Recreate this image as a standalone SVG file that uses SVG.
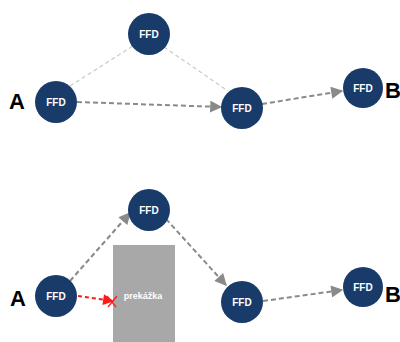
<svg xmlns="http://www.w3.org/2000/svg" width="400" height="342" viewBox="0 0 400 342">
  <defs>
    <marker id="arrow" viewBox="0 0 10 10" refX="9" refY="5" markerWidth="14" markerHeight="12" markerUnits="userSpaceOnUse" orient="auto">
      <path d="M0,0 L10,5 L0,10 z" fill="#8a8a8a"/>
    </marker>
    <marker id="arrowRed" viewBox="0 0 10 10" refX="9" refY="5" markerWidth="12" markerHeight="11" markerUnits="userSpaceOnUse" orient="auto">
      <path d="M0,0 L10,5 L0,10 z" fill="#ff1a1a"/>
    </marker>
  </defs>
  <style>
    .node circle { fill: #183b6a; }
    .node text { fill: #ffffff; font-family: "Liberation Sans", Arial, sans-serif; font-weight: bold; font-size: 10px; text-anchor: middle; }
    .end { fill: #000000; font-family: "Liberation Sans", Arial, sans-serif; font-weight: bold; font-size: 22px; }
    .faint { stroke: #c9c9c9; stroke-width: 1.2; stroke-dasharray: 4 3; fill: none; }
    .flowArrow { stroke: #8a8a8a; stroke-width: 2; stroke-dasharray: 5 3; fill: none; marker-end: url(#arrow); }
    .blocked { stroke: #ff1a1a; stroke-width: 2; stroke-dasharray: 4 3; fill: none; marker-end: url(#arrowRed); }
  </style>

  <rect width="400" height="342" fill="#ffffff"/>

  <!-- obstacle -->
  <g id="obstacle">
    <rect x="113" y="245" width="62" height="97" fill="#a8a8a8"/>
    <text x="143" y="299" fill="#ffffff" font-family="Liberation Sans, Arial, sans-serif" font-weight="bold" font-size="9" text-anchor="middle">prekážka</text>
  </g>

  <!-- connectors -->
  <g id="connectors">
    <!-- direct route -->
    <line class="faint" x1="70" y1="86" x2="133" y2="46"/>
    <line class="faint" x1="164" y1="47" x2="228" y2="91"/>
    <line class="flowArrow" x1="77" y1="102" x2="221" y2="107"/>
    <line class="flowArrow" x1="262" y1="104" x2="342" y2="91"/>
    <!-- detour route -->
    <line class="flowArrow" x1="70" y1="281" x2="130" y2="213"/>
    <line class="flowArrow" x1="166" y1="219" x2="226" y2="285"/>
    <line class="flowArrow" x1="263" y1="301" x2="342" y2="290"/>
    <line class="blocked" x1="78" y1="296" x2="113" y2="301"/>
    <path d="M107,296 L116,307 M108,307 L117,296" stroke="#ff1a1a" stroke-width="1.2" fill="none"/>
  </g>

  <!-- endpoint labels -->
  <text class="end" x="9" y="109">A</text>
  <text class="end" x="385" y="98">B</text>
  <text class="end" x="10" y="306">A</text>
  <text class="end" x="385" y="302">B</text>

  <!-- nodes, direct route -->
  <g id="n1a" class="node"><circle cx="56" cy="102" r="21"/><text x="56" y="106">FFD</text></g>
  <g id="n2a" class="node"><circle cx="149" cy="34" r="21"/><text x="149" y="38">FFD</text></g>
  <g id="n3a" class="node"><circle cx="242" cy="108" r="21"/><text x="242" y="112">FFD</text></g>
  <g id="n4a" class="node"><circle cx="363" cy="88" r="20"/><text x="363" y="92">FFD</text></g>

  <!-- nodes, detour route -->
  <g id="n1b" class="node"><circle cx="56" cy="296" r="21"/><text x="56" y="300">FFD</text></g>
  <g id="n2b" class="node"><circle cx="149" cy="210" r="21"/><text x="149" y="214">FFD</text></g>
  <g id="n3b" class="node"><circle cx="242" cy="302" r="21"/><text x="242" y="306">FFD</text></g>
  <g id="n4b" class="node"><circle cx="363" cy="287" r="20"/><text x="363" y="291">FFD</text></g>
</svg>
